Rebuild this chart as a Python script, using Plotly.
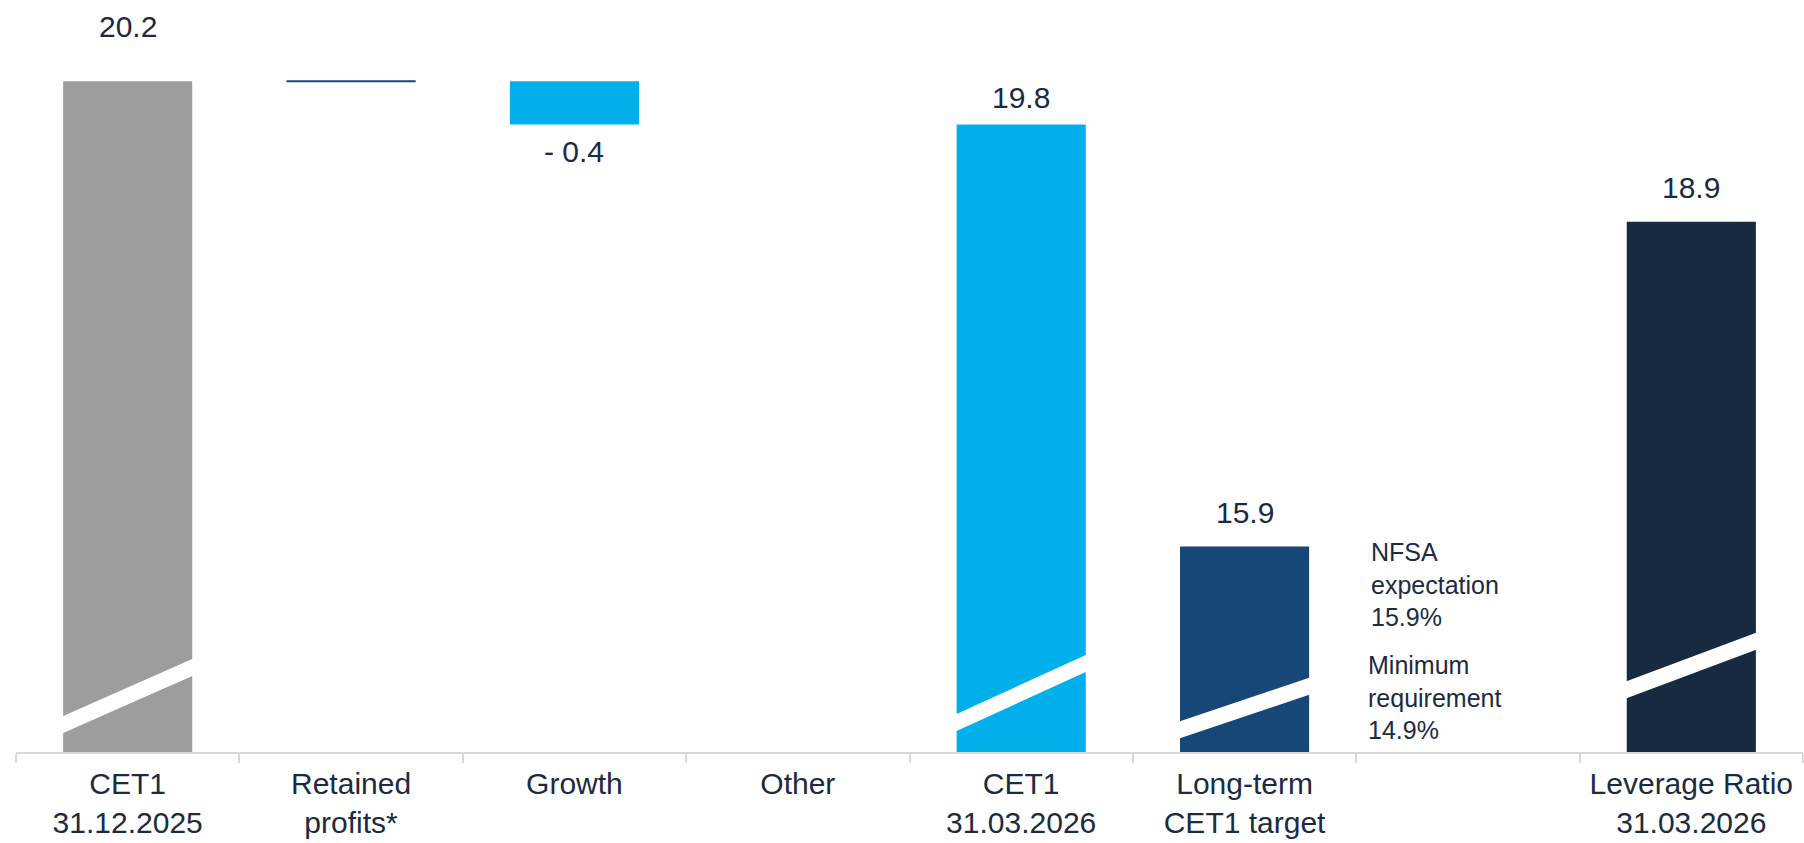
import plotly.graph_objects as go

# --- data -----------------------------------------------------------------
categories = [
    "CET1<br>31.12.2025",
    "Retained<br>profits*",
    "Growth",
    "Other",
    "CET1<br>31.03.2026",
    "Long-term<br>CET1 target",
    " ",
    "Leverage Ratio<br>31.03.2026",
]
# "total" items are drawn from the axis, "step" items float on the running level
kinds = ["total", "step", "step", "step", "total", "total", "none", "total"]
values = [20.2, 0.0, -0.4, 0.0, 19.8, 15.9, None, 18.9]
show_label = [True, False, True, False, True, True, False, True]

note_top = "NFSA<br>expectation<br>15.9%"
note_bottom = "Minimum<br>requirement<br>14.9%"

# --- styling --------------------------------------------------------------
GREY = "#9D9D9C"
LIGHT_BLUE = "#00B0EB"
MID_BLUE = "#164777"
NAVY = "#182A40"
TEXT = "#1B2B42"
AXIS = "#D9D9D9"
FONT = "Arial, Liberation Sans, sans-serif"

bar_colors = [GREY, MID_BLUE, LIGHT_BLUE, LIGHT_BLUE, LIGHT_BLUE, MID_BLUE, NAVY, NAVY]
# distance in px between a bar's end and the centre of its value label
label_gap = [55, 0, 27, 0, 27, 34, 0, 34]

W, H = 1804, 843
M_L, M_R, M_T, M_B = 16, 1, 0, 91
Y_MIN = 14.0            # broken value axis starts here
PX_PER_UNIT = 108.2
plot_h = H - M_T - M_B
Y_MAX = Y_MIN + plot_h / PX_PER_UNIT
BAR_W = 0.578
bar_px = BAR_W * (W - M_L - M_R) / len(categories)

# axis-break stripes: (category index, px above axis at left edge, px at right edge)
breaks = [(0, 18, 77), (4, 20, 81), (5, 13, 58), (7, 53, 103)]
STRIPE_PX = 17

# --- running levels for the bridge ----------------------------------------
bases, heights = [], []
level = 0.0
for k, v in zip(kinds, values):
    if k == "total":
        bases.append(0.0)
        heights.append(v)
        level = v
    elif k == "step":
        bases.append(level)
        heights.append(v)
        level = level + v
    else:
        bases.append(0.0)
        heights.append(None)

fig = go.Figure()
fig.add_trace(go.Bar(
    x=categories, y=heights, base=bases,
    marker=dict(color=bar_colors, line=dict(width=0)),
    width=BAR_W, hoverinfo="skip", showlegend=False,
))

# thin marker line for the flat retained-profits step
# (plotly's line-ew symbol spans 1.4 x marker size)
fig.add_trace(go.Scatter(
    x=[categories[1]], y=[bases[1] + heights[1]], mode="markers",
    marker=dict(symbol="line-ew", size=bar_px / 1.4,
                line=dict(color=MID_BLUE, width=2)),
    hoverinfo="skip", showlegend=False,
))


def to_y(px):
    return Y_MIN + px / PX_PER_UNIT


shapes = []
for idx, left_px, right_px in breaks:
    x0 = idx - BAR_W / 2 - 0.01
    x1 = idx + BAR_W / 2 + 0.01
    path = (f"M {x0},{to_y(left_px)} L {x1},{to_y(right_px)} "
            f"L {x1},{to_y(right_px + STRIPE_PX)} L {x0},{to_y(left_px + STRIPE_PX)} Z")
    shapes.append(dict(type="path", xref="x", yref="y", path=path,
                       fillcolor="white", line=dict(width=0), layer="above"))

annotations = []
for i, (c, v) in enumerate(zip(categories, values)):
    if not show_label[i]:
        continue
    top = bases[i] + heights[i]
    txt = f"- {abs(v):.1f}" if v < 0 else f"{v:.1f}"
    shift = -label_gap[i] if v < 0 else label_gap[i]
    annotations.append(dict(x=c, y=top, xref="x", yref="y", text=txt,
                            showarrow=False, yanchor="middle", yshift=shift,
                            font=dict(size=30, color=TEXT, family=FONT)))

for txt, yc, xs in [(note_top, 584, 13), (note_bottom, 697, 10)]:
    annotations.append(dict(x=5.5, xref="x", y=1 - yc / plot_h, yref="paper",
                            text=txt, align="left", xanchor="left", yanchor="middle",
                            xshift=xs, showarrow=False,
                            font=dict(size=25, color=TEXT, family=FONT)))

fig.update_layout(
    width=W, height=H,
    margin=dict(l=M_L, r=M_R, t=M_T, b=M_B, autoexpand=False),
    paper_bgcolor="white", plot_bgcolor="white",
    shapes=shapes, annotations=annotations,
    font=dict(family=FONT, color=TEXT),
    xaxis=dict(
        type="category", categoryorder="array", categoryarray=categories,
        range=[-0.5, len(categories) - 0.5],
        showline=True, linecolor=AXIS, linewidth=2,
        ticks="outside", tickson="boundaries", ticklen=9, tickwidth=2, tickcolor=AXIS,
        ticklabelstandoff=4, automargin=False,
        showgrid=False, zeroline=False,
        tickfont=dict(size=30, color=TEXT, family=FONT),
    ),
    yaxis=dict(range=[Y_MIN, Y_MAX], visible=False, showgrid=False, zeroline=False),
)

fig.write_html("out.html")
